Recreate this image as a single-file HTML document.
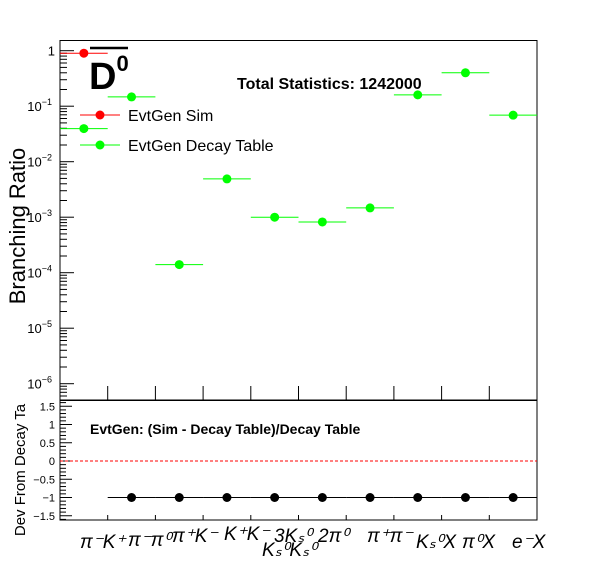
<!DOCTYPE html>
<html><head><meta charset="utf-8"><style>
body{margin:0;background:#fff}
svg{display:block;font-family:"Liberation Sans",sans-serif}
</style></head><body>
<svg id="c" width="596" height="572" xmlns="http://www.w3.org/2000/svg"></svg>
<script>
const categories=["pi-K+","pi-pi0","pi+K-","K+K-","KsKs","3Ks","2pi0","pi+pi-","KsX","pi0X","e-X"];
const decayTable=[0.0395,0.147,1.4e-4,4.9e-3,1.0e-3,8.2e-4,1.47e-3,0.16,0.40,0.069];
const simValues=[0.9,0,0,0,0,0,0,0,0,0];
const devValues=[null,-1,-1,-1,-1,-1,-1,-1,-1,-1];
const yTickExps=[0,-1,-2,-3,-4,-5,-6];
const devTicks=[1.5,1,0.5,0,-0.5,-1,-1.5];
const devTickLabels=["1.5","1","0.5","0","\u22120.5","\u22121","\u22121.5"];

const NS="http://www.w3.org/2000/svg";
const svg=document.getElementById('c');
function el(t,a,p){const e=document.createElementNS(NS,t);for(const k in a)e.setAttribute(k,a[k]);(p||svg).appendChild(e);return e;}
const X0=60,X1=537,NB=10,BW=(X1-X0)/NB;
const xc=i=>X0+BW*(i+0.5);
const yLog=v=>50.7-Math.log10(v)*55.5;
const yDev=v=>461-v*36.5;

let f=el('rect',{x:X0,y:40.5,width:X1-X0,height:359.5,fill:'none',stroke:'#000','stroke-width':1});


for(let d=0;d>=-7;d--){for(let m=1;m<10;m++){const v=m*Math.pow(10,d);const y=yLog(v);if(y<41||y>400)continue;
 const t=el('line',{x1:X0,x2:X0+(m==1?14:7),y1:y,y2:y,stroke:'#000'});
 
 }}
yTickExps.forEach(e=>{const y=yLog(Math.pow(10,e));
 const t=el('text',{x:e==0?55:52,y:y+5,'font-size':13,'text-anchor':'end'});
 
 
 if(e==0)t.textContent='1';else{t.textContent='10';const s=el('tspan',{dy:-6,'font-size':9},t);s.textContent=String(e).replace('-','\u2212');}
});
for(let i=1;i<NB;i++){const t=el('line',{x1:X0+BW*i,x2:X0+BW*i,y1:386,y2:400,stroke:'#000'});
 
 }
decayTable.forEach((v,i)=>{if(v<=0)return;const y=yLog(v);
 const l=el('line',{x1:xc(i)-BW/2,x2:xc(i)+BW/2,y1:y,y2:y,stroke:'#00ff00','stroke-width':1});
 
 
 const c=el('circle',{cx:xc(i),cy:y,r:4.5,fill:'#00ff00'});
 
 });
simValues.forEach((v,i)=>{if(v<=0)return;const y=yLog(v);
 const l=el('line',{x1:xc(i)-BW/2,x2:xc(i)+BW/2,y1:y,y2:y,stroke:'#ff0000','stroke-width':1});
 
 
 const c=el('circle',{cx:xc(i),cy:y,r:4.5,fill:'#ff0000'});
 
 });
let t=el('line',{x1:90,x2:128,y1:48,y2:48,stroke:'#000','stroke-width':2.5});


t=el('text',{x:89,y:89,'font-size':38,'font-weight':'bold'});t.textContent='D';


let s=el('tspan',{dy:-18,'font-size':22},t);s.textContent='0';
t=el('text',{x:237,y:89,'font-size':16,'font-weight':'bold'});t.textContent='Total Statistics: 1242000';


[['#ff0000','EvtGen Sim',115],['#00ff00','EvtGen Decay Table',145]].forEach(([c,lab,y])=>{
 const g=el('g',{});
 
 
 el('line',{x1:80,x2:120,y1:y,y2:y,stroke:c},g);
 el('circle',{cx:100,cy:y,r:4.5,fill:c},g);
 const tx=el('text',{x:128,y:y+6,'font-size':16},g);tx.textContent=lab;});
t=el('text',{x:0,y:0,'font-size':22,'text-anchor':'middle',transform:'translate(25,226) rotate(-90)'});t.textContent='Branching Ratio';



f=el('rect',{x:X0,y:400.5,width:X1-X0,height:119.5,fill:'none',stroke:'#000'});


for(let v=-1.6;v<=1.65;v+=0.1){const vv=Math.round(v*10)/10;const major=Math.abs(vv*2-Math.round(vv*2))<1e-6;
 const l=el('line',{x1:X0,x2:X0+(major?12:6),y1:yDev(vv),y2:yDev(vv),stroke:'#000'});
 
 }
devTicks.forEach((v,i)=>{const tx=el('text',{x:55,y:yDev(v)+4,'font-size':11,'text-anchor':'end'});tx.textContent=devTickLabels[i];
 
 });
for(let i=1;i<NB;i++){const l=el('line',{x1:X0+BW*i,x2:X0+BW*i,y1:515,y2:520,stroke:'#000'});
 
 }
t=el('line',{x1:X0,x2:X1,y1:yDev(0),y2:yDev(0),stroke:'#ff0000','stroke-dasharray':'3,2'});


devValues.forEach((v,i)=>{if(v==null)return;const y=yDev(v);
 const l=el('line',{x1:xc(i)-BW/2,x2:xc(i)+BW/2,y1:y,y2:y,stroke:'#000'});
 
 
 const c=el('circle',{cx:xc(i),cy:y,r:4.5,fill:'#000'});
 
 });
t=el('text',{x:90,y:434,'font-size':14,'font-weight':'bold'});t.textContent='EvtGen: (Sim - Decay Table)/Decay Table';


t=el('text',{x:0,y:0,'font-size':15,'text-anchor':'middle',transform:'translate(25,470) rotate(-90)'});t.textContent='Dev From Decay Ta';


const labs=[['\u03c0\u207bK\u207a',80,548],['\u03c0\u207b\u03c0\u2070',128,546],['\u03c0\u207aK\u207b',172,542],['K\u207aK\u207b',224,540],['K\u209b\u2070K\u209b\u2070',262,556],['3K\u209b\u2070',274,542],['2\u03c0\u2070',318,542],['\u03c0\u207a\u03c0\u207b',367,542],['K\u209b\u2070X',416,548],['\u03c0\u2070X',462,548],['e\u207bX',512,548]];
labs.forEach(([s,x,y])=>{const tx=el('text',{x:x,y:y,'font-size':19,'font-style':'italic'});tx.textContent=s;
 
 });
</script>
</body></html>
